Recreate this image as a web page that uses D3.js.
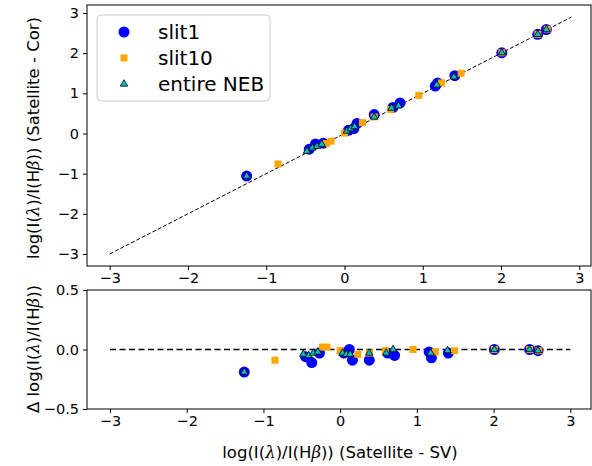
<!DOCTYPE html>
<html>
<head>
<meta charset="utf-8">
<script src="https://d3js.org/d3.v7.min.js"></script>
<style>
  body { margin: 0; background: #fff; }
  text { font-family: "DejaVu Sans", sans-serif; fill: #000; }
</style>
</head>
<body>
<div id="chart"></div>
<script>
// x: log(I/Hb) Satellite - SV, cor: Satellite - Cor, delta: difference
var slit1X     = [-1.25, -0.45, -0.37, -0.27, 0.05, 0.12, 0.16, 0.38, 0.62, 0.71, 1.16, 1.19, 1.41, 2.01, 2.47, 2.58];
var slit1Cor   = [-1.06, -0.39, -0.26, -0.24, 0.08, 0.12, 0.25, 0.47, 0.65, 0.76, 1.18, 1.26, 1.44, 2.01, 2.47, 2.59];
var slit1Delta = [-0.19, -0.06, -0.11, -0.03, -0.03, 0.00, -0.09, -0.09, -0.03, -0.05, -0.02, -0.07, -0.03, 0.00, 0.00, -0.01];

var slit10X     = [-0.85, -0.23, -0.17, 0.00, 0.23, 0.38, 0.59, 0.95, 1.24, 1.49, 2.01, 2.47, 2.59];
var slit10Cor   = [-0.76, -0.25, -0.19, 0.01, 0.27, 0.41, 0.60, 0.95, 1.26, 1.50, 2.01, 2.47, 2.60];
var slit10Delta = [-0.09, 0.02, 0.02, -0.01, -0.04, -0.03, -0.01, 0.00, -0.02, -0.01, 0.00, 0.00, -0.01];

var nebX     = [-1.25, -0.48, -0.41, -0.35, -0.29, 0.03, 0.08, 0.13, 0.38, 0.60, 0.69, 1.18, 1.40, 2.01, 2.47, 2.58];
var nebCor   = [-1.06, -0.44, -0.36, -0.32, -0.27, 0.06, 0.12, 0.17, 0.41, 0.63, 0.69, 1.21, 1.41, 2.01, 2.47, 2.59];
var nebDelta = [-0.19, -0.04, -0.05, -0.03, -0.02, -0.03, -0.04, -0.04, -0.03, -0.03, 0.00, -0.03, -0.01, 0.00, 0.00, -0.01];

var topTicksY = [-3, -2, -1, 0, 1, 2, 3];
var xTicks = [-3, -2, -1, 0, 1, 2, 3];
var botTicksY = [-0.5, 0.0, 0.5];
var legendLabels = ["slit1", "slit10", "entire NEB"];

var width = 592, height = 466;
var svg = d3.select("#chart").append("svg")
  .attr("width", width)
  .attr("height", height);

// scales
var xTop = d3.scaleLinear().domain([-3.29, 3.15]).range([87, 591]);
var yTop = d3.scaleLinear().domain([-3.3, 3.2]).range([266, 5]);
var xBot = d3.scaleLinear().domain([-3.30, 3.27]).range([87, 591]);
var yBot = d3.scaleLinear().domain([-0.5, 0.5]).range([409, 290]);

function zip(xs, ys) { return xs.map((d, i) => [d, ys[i]]); }

function drawPanel(g, xs, ys, yTicks, yFmt) {
  var gx = g.append("g")
    .attr("transform", "translate(0," + ys.range()[0] + ")")
    .call(d3.axisBottom(xs).tickValues(xTicks).tickSize(4).tickPadding(3)
      .tickFormat(d => d < 0 ? "\u2212" + Math.abs(d) : d));
  var gy = g.append("g")
    .attr("transform", "translate(" + xs.range()[0] + ",0)")
    .call(d3.axisLeft(ys).tickValues(yTicks).tickSize(4).tickPadding(4).tickFormat(yFmt));
  [gx, gy].forEach(a => {
    a.selectAll("text").style("font-size", "14.5px").attr("fill", "#000");
    a.select(".domain").remove();
  });
  g.append("rect")
    .attr("x", xs.range()[0]).attr("y", ys.range()[1])
    .attr("width", xs.range()[1] - xs.range()[0])
    .attr("height", ys.range()[0] - ys.range()[1])
    .attr("fill", "none").attr("stroke", "#000").attr("stroke-width", 1);
}

function drawMarkers(g, xs, ys, blue, orange, tri) {
  g.append("g").selectAll("circle").data(blue).enter().append("circle")
    .attr("cx", d => xs(d[0])).attr("cy", d => ys(d[1])).attr("r", 5.5)
    .attr("fill", "blue");
  g.append("g").selectAll("rect").data(orange).enter().append("rect")
    .attr("x", d => xs(d[0]) - 3.5).attr("y", d => ys(d[1]) - 3.5)
    .attr("width", 7).attr("height", 7)
    .attr("fill", "orange");
  var sym = d3.symbol().type(d3.symbolTriangle).size(24);
  g.append("g").selectAll("path").data(tri).enter().append("path")
    .attr("d", sym)
    .attr("transform", d => "translate(" + xs(d[0]) + "," + ys(d[1]) + ")")
    .attr("fill", "#00bfbf").attr("stroke", "#000").attr("stroke-width", 0.8);
}

// top panel
var gTop = svg.append("g");
drawPanel(gTop, xTop, yTop, topTicksY, d => d < 0 ? "\u2212" + Math.abs(d) : d);
gTop.append("line")
  .attr("x1", xTop(-3)).attr("y1", yTop(-3))
  .attr("x2", xTop(2.9)).attr("y2", yTop(2.9))
  .attr("stroke", "#000").attr("stroke-width", 1).attr("stroke-dasharray", "4,2");
drawMarkers(gTop, xTop, yTop, zip(slit1X, slit1Cor), zip(slit10X, slit10Cor), zip(nebX, nebCor));

// bottom panel
var gBot = svg.append("g");
drawPanel(gBot, xBot, yBot, botTicksY, d => d < 0 ? "\u2212" + Math.abs(d).toFixed(1) : d.toFixed(1));
gBot.append("line")
  .attr("x1", xBot(-3)).attr("y1", yBot(0))
  .attr("x2", xBot(3)).attr("y2", yBot(0))
  .attr("stroke", "#000").attr("stroke-width", 1.5).attr("stroke-dasharray", "6,3.5");
drawMarkers(gBot, xBot, yBot, zip(slit1X, slit1Delta), zip(slit10X, slit10Delta), zip(nebX, nebDelta));

// legend
var leg = svg.append("g");
leg.append("rect")
  .attr("x", 97).attr("y", 15).attr("width", 173).attr("height", 86).attr("rx", 4)
  .attr("fill", "#fff").attr("fill-opacity", 0.8).attr("stroke", "#ccc");
var legY = [32, 58, 84];
leg.append("circle").attr("cx", 124).attr("cy", legY[0]).attr("r", 5.5).attr("fill", "blue");
leg.append("rect").attr("x", 120.5).attr("y", legY[1] - 3.5).attr("width", 7).attr("height", 7).attr("fill", "orange");
leg.append("path").attr("d", d3.symbol().type(d3.symbolTriangle).size(24))
  .attr("transform", "translate(124," + legY[2] + ")")
  .attr("fill", "#00bfbf").attr("stroke", "#000").attr("stroke-width", 0.8);
leg.selectAll("text.lab").data(legendLabels).enter().append("text")
  .attr("class", "lab")
  .attr("x", 158).attr("y", (d, i) => legY[i] + 7)
  .style("font-size", "20px")
  .text(d => d);

// axis labels
function mathLabel(t, parts) {
  parts.forEach(p => {
    t.append("tspan").text(p[0]).style("font-style", p[1] ? "italic" : "normal")
      .style("font-family", p[1] ? "'DejaVu Serif', serif" : null);
  });
}
var topLab = svg.append("text")
  .attr("transform", "translate(39,138) rotate(-90)")
  .attr("text-anchor", "middle").style("font-size", "16.5px");
mathLabel(topLab, [["log(I(", 0], ["\u03bb", 1], [")/I(H", 0], ["\u03b2", 1], [")) (Satellite - Cor)", 0]]);

var botLab = svg.append("text")
  .attr("transform", "translate(39,349) rotate(-90)")
  .attr("text-anchor", "middle").style("font-size", "16.5px");
mathLabel(botLab, [["\u0394 log(I(", 0], ["\u03bb", 1], [")/I(H", 0], ["\u03b2", 1], ["))", 0]]);

var xLab = svg.append("text")
  .attr("x", 340).attr("y", 458)
  .attr("text-anchor", "middle").style("font-size", "16.5px");
mathLabel(xLab, [["log(I(", 0], ["\u03bb", 1], [")/I(H", 0], ["\u03b2", 1], [")) (Satellite - SV)", 0]]);
</script>
</body>
</html>
